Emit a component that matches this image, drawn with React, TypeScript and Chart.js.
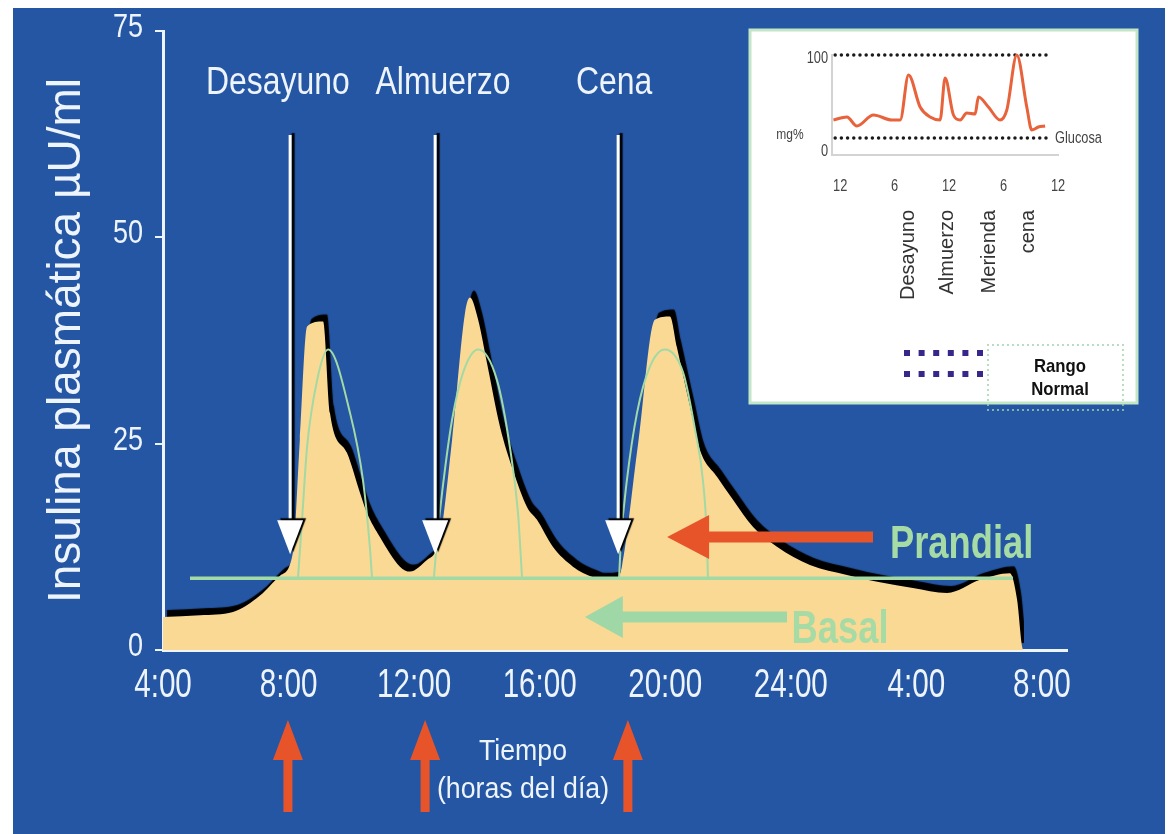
import React, { useEffect, useRef } from 'react';
import { Chart, registerables } from 'chart.js';

// ---------- data ----------
const insulinHours = [4.0, 5.18, 6.23, 7.09, 7.73, 8.14, 8.36, 8.59, 9.10, 9.32, 9.86, 10.28, 10.50, 10.91, 11.55, 11.87, 12.41, 12.67, 12.82, 13.21, 13.62, 13.78, 14.04, 14.32, 14.74, 15.15, 15.60, 15.91, 16.42, 17.06, 17.70, 17.92, 18.46, 18.62, 19.13, 19.67, 20.15, 20.37, 20.79, 21.11, 21.65, 22.16, 22.80, 23.56, 24.61, 25.79, 26.84, 27.89, 28.98, 30.03, 30.98, 31.21, 31.37, 31.43];
const insulinValues = [4.0, 4.2, 4.6, 6.6, 9.0, 11.8, 25.5, 39.2, 39.8, 28.7, 23.9, 19.0, 16.6, 13.7, 10.1, 9.5, 10.9, 11.8, 13.3, 25.5, 40.8, 42.7, 40.0, 34.8, 27.0, 21.8, 17.3, 15.8, 12.5, 10.1, 8.8, 8.5, 8.7, 10.1, 24.8, 40.0, 40.4, 36.7, 29.5, 24.2, 21.0, 18.2, 14.9, 12.5, 10.3, 9.1, 8.2, 7.5, 6.9, 8.5, 9.3, 6.1, 0.4, 0];

const bell1Hours = [8.30, 8.43, 8.59, 8.91, 9.26, 9.96, 10.37, 10.59, 10.66];
const bell1Values = [8.7, 15.8, 24.6, 32.7, 36.4, 28.7, 20.6, 12.5, 8.7];
const bell2Hours = [12.63, 12.76, 12.98, 13.21, 13.56, 14.04, 14.64, 15.05, 15.31, 15.44];
const bell2Values = [8.7, 14.5, 21.8, 27.9, 33.6, 36.4, 32.7, 24.6, 16.6, 8.7];
const bell3Hours = [18.53, 18.59, 18.78, 19.10, 19.51, 19.99, 20.57, 20.95, 21.20, 21.33, 21.36];
const bell3Values = [8.7, 13.3, 20.6, 28.7, 34.3, 36.4, 33.6, 26.7, 20.6, 13.3, 8.7];

const basalHours = [4.86, 31.08];
const basalValues = [8.7, 8.7];

const xTickHours = [4, 8, 12, 16, 20, 24, 28, 32];
const xTickLabels = ['4:00', '8:00', '12:00', '16:00', '20:00', '24:00', '4:00', '8:00'];
const yTickValues = [0, 25, 50, 75];

const mealNames = ['Desayuno', 'Almuerzo', 'Cena'];
const mealArrowHours = [8.05, 12.67, 18.5];
const mealLabelHours = [7.66, 12.92, 18.37];
const bottomArrowHours = [7.98, 12.35, 18.81];
const mealArrowTopValue = 62.4;
const mealArrowTipValue = 11.6;

const prandialArrow = [20.06, 26.62, 13.7]; // tip hour, tail hour, value
const basalArrow = [17.44, 23.88, 4.0];
const prandialLabel = [27.16, 11.15]; // hour, value
const basalLabel = [25.57, 0.85];

// inset (glucose)
const glucoseHours = [-0.74, 0.74, 1.84, 3.67, 5.69, 6.61, 7.53, 8.81, 9.91, 11.01, 11.56, 12.48, 13.22, 13.95, 14.87, 15.23, 16.33, 17.62, 18.36, 19.46, 20.56, 21.11, 21.84, 22.58];
const glucoseValues = [35, 38, 29, 40, 35, 35, 80, 48, 38, 35, 77, 40, 35, 42, 41, 58, 48, 35, 45, 100, 48, 25, 28, 29];
const rangeHours = [-0.55, 22.9];
const rangeUpper = 100;
const rangeLower = 17;
const insetTickHours = [0, 6, 12, 18, 24];
const insetTickLabels = ['12', '6', '12', '6', '12'];
const insetYTicks = [0, 100];
const insetMealNames = ['Desayuno', 'Almuerzo', 'Merienda', 'cena'];
const insetMealHours = [7.5, 11.8, 16.5, 20.7];

// ---------- styles ----------
const BLUE = '#2456a4';
const TAN = '#fad995';
const GREEN = '#a3d9a5';
const ORANGE = '#e8542a';
const WHITE = '#eef4fb';
const SANS = "'Liberation Sans', Arial, Helvetica, sans-serif";

// shadow plugin registered before the built-ins so it wraps the filler too
const shadowPlugin = {
  id: 'dsShadow',
  beforeDatasetDraw(chart: any, args: any) {
    const ds: any = chart.data.datasets[args.index];
    if (!ds || !ds.shadow) return;
    const ctx = chart.ctx;
    ctx.save();
    ctx.shadowColor = ds.shadow.color;
    ctx.shadowOffsetX = ds.shadow.x;
    ctx.shadowOffsetY = ds.shadow.y;
    ctx.shadowBlur = ds.shadow.blur;
  },
  afterDatasetDraw(chart: any, args: any) {
    const ds: any = chart.data.datasets[args.index];
    if (!ds || !ds.shadow) return;
    chart.ctx.restore();
  },
};
Chart.register(shadowPlugin as any);
Chart.register(...registerables);

function txt(ctx: CanvasRenderingContext2D, s: string, x: number, y: number, font: string, color: string,
  align: CanvasTextAlign = 'center', sx = 1, baseline: CanvasTextBaseline = 'middle', rot = 0) {
  ctx.save();
  ctx.translate(x, y);
  if (rot) ctx.rotate(rot);
  ctx.scale(sx, 1);
  ctx.font = font;
  ctx.fillStyle = color;
  ctx.textAlign = align;
  ctx.textBaseline = baseline;
  ctx.fillText(s, 0, 0);
  ctx.restore();
}

function leftArrow(ctx: CanvasRenderingContext2D, tipX: number, tailX: number, cy: number, headLen: number, headHalf: number, shaftHalf: number, color: string) {
  ctx.save();
  ctx.fillStyle = color;
  ctx.beginPath();
  ctx.moveTo(tipX, cy);
  ctx.lineTo(tipX + headLen, cy - headHalf);
  ctx.lineTo(tipX + headLen, cy - shaftHalf);
  ctx.lineTo(tailX, cy - shaftHalf);
  ctx.lineTo(tailX, cy + shaftHalf);
  ctx.lineTo(tipX + headLen, cy + shaftHalf);
  ctx.lineTo(tipX + headLen, cy + headHalf);
  ctx.closePath();
  ctx.fill();
  ctx.restore();
}

function upArrow(ctx: CanvasRenderingContext2D, cx: number, tipY: number, tailY: number, headLen: number, headHalf: number, shaftHalf: number, color: string) {
  ctx.save();
  ctx.fillStyle = color;
  ctx.beginPath();
  ctx.moveTo(cx, tipY);
  ctx.lineTo(cx + headHalf, tipY + headLen);
  ctx.lineTo(cx + shaftHalf, tipY + headLen);
  ctx.lineTo(cx + shaftHalf, tailY);
  ctx.lineTo(cx - shaftHalf, tailY);
  ctx.lineTo(cx - shaftHalf, tipY + headLen);
  ctx.lineTo(cx - headHalf, tipY + headLen);
  ctx.closePath();
  ctx.fill();
  ctx.restore();
}

const pts = (hs: number[], vs: number[]) => hs.map((h, i) => ({ x: h, y: vs[i] }));

const bgPlugin = {
  id: 'bg',
  beforeDraw(chart: any) {
    const ctx = chart.ctx;
    ctx.save();
    ctx.fillStyle = '#ffffff';
    ctx.fillRect(0, 0, chart.width, chart.height);
    ctx.fillStyle = BLUE;
    ctx.fillRect(13, 8, 1152, 826);
    ctx.restore();
  },
};

// condensed tick labels drawn at the axes' own tick positions
const condensedTicks = {
  id: 'condensedTicks',
  afterDraw(chart: any) {
    const ctx: CanvasRenderingContext2D = chart.ctx;
    const xs = chart.scales.x;
    const ys = chart.scales.y;
    xs.ticks.forEach((t: any, i: number) => {
      txt(ctx, String(t.label), xs.getPixelForTick(i), 686, `40px ${SANS}`, WHITE, 'center', 0.74);
    });
    ys.ticks.forEach((t: any, i: number) => {
      txt(ctx, String(t.label), 143, ys.getPixelForTick(i) - 3, `33px ${SANS}`, WHITE, 'right', 0.82);
    });
  },
};

const annotPlugin = {
  id: 'annot',
  afterDatasetsDraw(chart: any) {
    const ctx: CanvasRenderingContext2D = chart.ctx;
    const xs = chart.scales.x;
    const ys = chart.scales.y;

    // Basal arrow + label
    leftArrow(ctx, xs.getPixelForValue(basalArrow[0]), xs.getPixelForValue(basalArrow[1]), ys.getPixelForValue(basalArrow[2]), 38, 21, 5.5, '#9fd8a6');
    txt(ctx, 'Basal', xs.getPixelForValue(basalLabel[0]), ys.getPixelForValue(basalLabel[1]), `bold 46px ${SANS}`, '#a6dba6', 'center', 0.79, 'alphabetic');

    // Prandial arrow + label
    leftArrow(ctx, xs.getPixelForValue(prandialArrow[0]), xs.getPixelForValue(prandialArrow[1]), ys.getPixelForValue(prandialArrow[2]), 42, 22, 5.5, ORANGE);
    txt(ctx, 'Prandial', xs.getPixelForValue(prandialLabel[0]), ys.getPixelForValue(prandialLabel[1]), `bold 46px ${SANS}`, '#a6dba6', 'left', 0.79, 'alphabetic');

    // meal arrows (white with dark shadow)
    mealArrowHours.forEach((h) => {
      const px = xs.getPixelForValue(h);
      const top = ys.getPixelForValue(mealArrowTopValue);
      const tip = ys.getPixelForValue(mealArrowTipValue);
      ctx.save();
      ctx.shadowColor = '#000000';
      ctx.shadowOffsetX = 3;
      ctx.shadowOffsetY = -2;
      ctx.shadowBlur = 1;
      ctx.strokeStyle = '#ffffff';
      ctx.lineWidth = 3;
      ctx.beginPath();
      ctx.moveTo(px, top);
      ctx.lineTo(px, tip - 30);
      ctx.stroke();
      ctx.fillStyle = '#ffffff';
      ctx.beginPath();
      ctx.moveTo(px - 13, tip - 34);
      ctx.lineTo(px + 13, tip - 34);
      ctx.lineTo(px, tip);
      ctx.closePath();
      ctx.fill();
      ctx.restore();
    });

    // meal labels
    mealNames.forEach((n, i) => {
      txt(ctx, n, xs.getPixelForValue(mealLabelHours[i]), 84, `38px ${SANS}`, WHITE, 'center', 0.84);
    });

    // bottom orange arrows
    bottomArrowHours.forEach((h) => {
      upArrow(ctx, xs.getPixelForValue(h), 720, 812, 40, 15, 4.5, ORANGE);
    });

    // x-axis caption
    txt(ctx, 'Tiempo', 523, 752, `30px ${SANS}`, WHITE, 'center', 0.89);
    txt(ctx, '(horas del día)', 523, 790, `30px ${SANS}`, WHITE, 'center', 0.89);
  },
};

// inset plugins
const insetBg = {
  id: 'insetBg',
  beforeDraw(chart: any) {
    const ctx = chart.ctx;
    ctx.save();
    ctx.fillStyle = '#ffffff';
    ctx.fillRect(5, 5, 387, 373);
    ctx.strokeStyle = '#c3e6c6';
    ctx.lineWidth = 3;
    ctx.strokeRect(5, 5, 387, 373);
    ctx.restore();
  },
};

const insetAnnot = {
  id: 'insetAnnot',
  afterDraw(chart: any) {
    const ctx: CanvasRenderingContext2D = chart.ctx;
    const xs = chart.scales.x;
    const ys = chart.scales.y;
    xs.ticks.forEach((t: any, i: number) => {
      txt(ctx, String(t.label), xs.getPixelForTick(i), 162, `16px ${SANS}`, '#444444', 'center', 0.8);
    });
    ys.ticks.forEach((t: any, i: number) => {
      txt(ctx, String(t.label), 83, ys.getPixelForTick(i) + (i === 0 ? -3 : 4), `16px ${SANS}`, '#444444', 'right', 0.8);
    });
    insetMealNames.forEach((n, i) => {
      txt(ctx, n, xs.getPixelForValue(insetMealHours[i]), 185, `20px ${SANS}`, '#333333', 'right', 1, 'middle', -Math.PI / 2);
    });
    txt(ctx, 'mg%', 45, 110, `15px ${SANS}`, '#444444', 'center', 0.8);
    txt(ctx, 'Glucosa', 310, 114, `16px ${SANS}`, '#444444', 'left', 0.8);

    // legend: purple dots
    ctx.save();
    ctx.fillStyle = '#35288a';
    for (let r = 0; r < 2; r++) {
      for (let c = 0; c < 6; c++) {
        ctx.fillRect(162 + c * 14.6 - 3, 328 + r * 21 - 3, 6, 6);
      }
    }
    // dotted green rect
    ctx.strokeStyle = '#9fd4a8';
    ctx.lineWidth = 2;
    ctx.lineCap = 'round';
    ctx.setLineDash([0, 5]);
    ctx.strokeRect(243, 320, 135, 65);
    ctx.restore();
    txt(ctx, 'Rango', 315, 342, `bold 19px ${SANS}`, '#111111', 'center', 0.88);
    txt(ctx, 'Normal', 315, 365, `bold 19px ${SANS}`, '#111111', 'center', 0.88);
  },
};

export default function App() {
  const mainRef = useRef<HTMLCanvasElement>(null);
  const insetRef = useRef<HTMLCanvasElement>(null);

  useEffect(() => {
    const main = new Chart(mainRef.current as HTMLCanvasElement, {
      type: 'line',
      data: {
        datasets: [
          { label: 'Prandial desayuno', data: pts(bell1Hours, bell1Values), borderColor: GREEN, borderWidth: 2, pointRadius: 0, fill: false, cubicInterpolationMode: 'monotone', order: 0 },
          { label: 'Prandial almuerzo', data: pts(bell2Hours, bell2Values), borderColor: GREEN, borderWidth: 2, pointRadius: 0, fill: false, cubicInterpolationMode: 'monotone', order: 0 },
          { label: 'Prandial cena', data: pts(bell3Hours, bell3Values), borderColor: GREEN, borderWidth: 2, pointRadius: 0, fill: false, cubicInterpolationMode: 'monotone', order: 0 },
          { label: 'Basal', data: pts(basalHours, basalValues), borderColor: GREEN, borderWidth: 3.5, pointRadius: 0, fill: false, order: 1 },
          {
            label: 'Insulina', data: pts(insulinHours, insulinValues), borderColor: 'rgba(0,0,0,0)', borderWidth: 0,
            backgroundColor: TAN, fill: 'origin', pointRadius: 0, cubicInterpolationMode: 'monotone', order: 5,
            shadow: { color: '#000000', x: 4, y: -7, blur: 1 },
          } as any,
        ],
      },
      options: {
        animation: false,
        responsive: false,
        devicePixelRatio: 1,
        layout: { padding: { left: 0, top: 31, right: 102, bottom: 0 } },
        plugins: { legend: { display: false }, tooltip: { enabled: false }, colors: { enabled: false } } as any,
        scales: {
          x: {
            type: 'linear', min: 4, max: 32.8, z: 1,
            afterFit: (s: any) => { s.height = 184; },
            afterBuildTicks: (s: any) => { s.ticks = xTickHours.map((v) => ({ value: v })); },
            grid: { display: false, drawTicks: false },
            border: { display: true, color: WHITE, width: 3 },
            ticks: {
              autoSkip: false, maxRotation: 0, padding: 12, color: 'rgba(0,0,0,0)',
              font: { family: SANS, size: 30 },
              callback: (v: any) => { const i = xTickHours.indexOf(Number(v)); return i >= 0 ? xTickLabels[i] : ''; },
            },
          },
          y: {
            type: 'linear', min: 0, max: 75, z: 1,
            afterFit: (s: any) => { s.width = 163; },
            afterBuildTicks: (s: any) => { s.ticks = yTickValues.map((v) => ({ value: v })); },
            grid: { drawOnChartArea: false, drawTicks: true, tickLength: 8, color: WHITE, lineWidth: 2 },
            border: { display: true, color: WHITE, width: 3 },
            ticks: { padding: 13, color: 'rgba(0,0,0,0)', font: { family: SANS, size: 28 } },
            title: { display: true, text: 'Insulina plasmática µU/ml', color: WHITE, font: { family: SANS, size: 46 }, padding: { top: 40, bottom: 0 } },
          },
        },
      } as any,
      plugins: [bgPlugin, annotPlugin, condensedTicks],
    });

    const inset = new Chart(insetRef.current as HTMLCanvasElement, {
      type: 'line',
      data: {
        datasets: [
          { label: 'Glucosa', data: pts(glucoseHours, glucoseValues), borderColor: '#e8623c', borderWidth: 3, pointRadius: 0, fill: false, cubicInterpolationMode: 'monotone', clip: false, order: 0 } as any,
          { label: 'Rango superior', data: pts(rangeHours, [rangeUpper, rangeUpper]), borderColor: '#1a1a1a', borderWidth: 3.5, borderDash: [0, 6.2], borderCapStyle: 'round', pointRadius: 0, fill: false, clip: false, order: 1 } as any,
          { label: 'Rango inferior', data: pts(rangeHours, [rangeLower, rangeLower]), borderColor: '#1a1a1a', borderWidth: 3.5, borderDash: [0, 6.2], borderCapStyle: 'round', pointRadius: 0, fill: false, clip: false, order: 1 } as any,
        ],
      },
      options: {
        animation: false,
        responsive: false,
        devicePixelRatio: 1,
        layout: { padding: { left: 0, top: 30, right: 87, bottom: 0 } },
        plugins: { legend: { display: false }, tooltip: { enabled: false }, colors: { enabled: false } } as any,
        scales: {
          x: {
            type: 'linear', min: -0.9, max: 24,
            afterFit: (s: any) => { s.height = 265; },
            afterBuildTicks: (s: any) => { s.ticks = insetTickHours.map((v) => ({ value: v })); },
            grid: { display: false, drawTicks: false },
            border: { display: true, color: '#d3d3d3', width: 2 },
            ticks: {
              autoSkip: false, maxRotation: 0, padding: 22, color: 'rgba(0,0,0,0)',
              font: { family: SANS, size: 14 },
              callback: (v: any) => { const i = insetTickHours.indexOf(Number(v)); return i >= 0 ? insetTickLabels[i] : ''; },
            },
          },
          y: {
            type: 'linear', min: 0, max: 100,
            afterFit: (s: any) => { s.width = 87; },
            afterBuildTicks: (s: any) => { s.ticks = insetYTicks.map((v) => ({ value: v })); },
            grid: { display: false, drawTicks: false },
            border: { display: true, color: '#d3d3d3', width: 2 },
            ticks: { padding: 5, color: 'rgba(0,0,0,0)', font: { family: SANS, size: 13 } },
          },
        },
      } as any,
      plugins: [insetBg, insetAnnot],
    });

    return () => {
      main.destroy();
      inset.destroy();
    };
  }, []);

  return (
    <div style={{ position: 'fixed', left: 0, top: 0, width: 1169, height: 834, background: '#ffffff' }}>
      <canvas ref={mainRef} width={1169} height={834} style={{ position: 'absolute', left: 0, top: 0, width: 1169, height: 834 }} />
      <canvas ref={insetRef} width={400} height={395} style={{ position: 'absolute', left: 745, top: 25, width: 400, height: 395 }} />
    </div>
  );
}
